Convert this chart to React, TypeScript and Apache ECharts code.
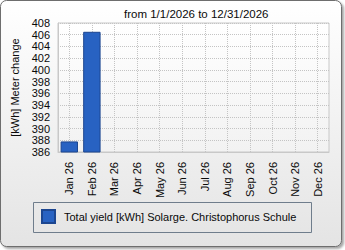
import React, { useEffect, useRef } from "react";
import * as echarts from "echarts";

const categories = ["Jan 26", "Feb 26", "Mar 26", "Apr 26", "May 26", "Jun 26", "Jul 26", "Aug 26", "Sep 26", "Oct 26", "Nov 26", "Dec 26"];
const yieldValues: (number | null)[] = [387.8, 406.5, null, null, null, null, null, null, null, null, null, null];
const seriesName = "Total yield [kWh] Solarge. Christophorus Schule";
const titleText = "from 1/1/2026 to 12/31/2026";
const yAxisName = "[kWh] Meter change";
const yMin = 386;
const yMax = 408;
const yStep = 2;

const FONT = "'Liberation Sans', Arial, sans-serif";
const TXT = "#0a0a0a";

export default function App() {
  const ref = useRef<HTMLDivElement>(null);
  useEffect(() => {
    if (!ref.current) return;
    const chart = echarts.init(ref.current, undefined, { renderer: "svg" });
    chart.setOption({
      animation: false,
      textStyle: { fontFamily: FONT },
      title: {
        text: titleText,
        left: 124,
        top: 8,
        padding: 0,
        textStyle: { fontSize: 11.5, fontWeight: "normal", color: TXT, fontFamily: FONT },
      },
      graphic: [
        {
          type: "rect",
          z: -10,
          silent: true,
          shape: { x: 0.5, y: 0.5, width: 341, height: 246, r: 6 },
          style: {
            fill: new echarts.graphic.LinearGradient(0, 0, 0, 1, [
              { offset: 0, color: "#ffffff" },
              { offset: 1, color: "#e4e4e4" },
            ]),
            stroke: "#6e6e6e",
            lineWidth: 1,
            shadowBlur: 2,
            shadowOffsetX: 2,
            shadowOffsetY: 2,
            shadowColor: "rgba(0,0,0,0.35)",
          },
        },
        {
          type: "rect",
          z: -5,
          silent: true,
          shape: { x: 33.5, y: 202.5, width: 278, height: 30 },
          style: { fill: "none", stroke: "#6f7d8c", lineWidth: 1 },
        },
      ],
      grid: {
        left: 58,
        right: 16,
        top: 23,
        bottom: 98,
        show: true,
        backgroundColor: new echarts.graphic.LinearGradient(0, 0, 0, 1, [
          { offset: 0, color: "#ffffff" },
          { offset: 1, color: "#f2f2f2" },
        ]),
        borderColor: "#c8c8c8",
        borderWidth: 1,
      },
      legend: {
        left: 41,
        top: 209,
        padding: 0,
        itemWidth: 13,
        itemHeight: 13,
        icon: "rect",
        data: [seriesName],
        textStyle: { fontSize: 11, color: TXT, fontFamily: FONT, padding: [0, 0, 0, 4] },
      },
      xAxis: {
        type: "category",
        data: categories,
        axisLine: { lineStyle: { color: "#c8c8c8" } },
        axisTick: { alignWithLabel: true, length: 6, lineStyle: { color: "#b0b0b0", type: "dotted" } },
        axisLabel: { rotate: 90, margin: 10, fontSize: 11, color: TXT, fontFamily: FONT, interval: 0 },
        splitLine: { show: false },
      },
      yAxis: {
        type: "value",
        min: yMin,
        max: yMax,
        interval: yStep,
        name: yAxisName,
        nameLocation: "middle",
        nameGap: 35,
        nameTextStyle: { fontSize: 11, color: TXT, fontFamily: FONT },
        axisLine: { show: true, lineStyle: { color: "#c8c8c8" } },
        axisTick: { show: false },
        axisLabel: { fontSize: 11, color: TXT, margin: 8, fontFamily: FONT, showMinLabel: true, showMaxLabel: true, hideOverlap: false },
        splitLine: { lineStyle: { color: "#c4c4c4", type: "dotted" } },
      },
      series: [
        {
          name: "grid-v",
          type: "line",
          data: [],
          z: 1,
          silent: true,
          markLine: {
            silent: true,
            symbol: "none",
            z: 1,
            label: { show: false },
            lineStyle: { color: "#c4c4c4", type: "dotted", width: 1 },
            data: categories.map((c) => ({ xAxis: c })),
          },
        },
        {
          name: seriesName,
          type: "bar",
          z: 3,
          data: yieldValues,
          barCategoryGap: "23%",
          itemStyle: { color: "#2862c2", borderColor: "#1c4690", borderWidth: 1 },
        },
      ],
    });
    return () => chart.dispose();
  }, []);
  return <div ref={ref} style={{ position: "absolute", left: 0, top: 0, width: 345, height: 250 }} />;
}
